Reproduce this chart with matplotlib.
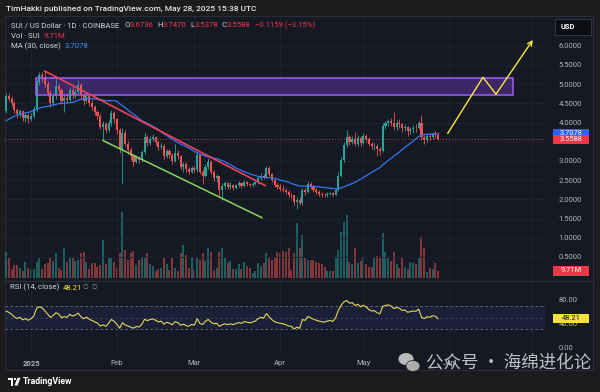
import numpy as np
import pandas as pd
import matplotlib
matplotlib.use("Agg")
import matplotlib.pyplot as plt
from matplotlib.patches import Rectangle, Ellipse, Polygon

plt.rcParams['font.family'] = ['Roboto', 'DejaVu Sans']

# ---------------- data ----------------
# closes before the visible range (24 Nov - 22 Dec 2024), only used for MA/RSI warm-up
warmup_close = [3.42, 3.35, 3.20, 3.45, 3.55, 3.58, 3.62, 3.72, 3.60, 3.48,
                4.10, 4.30, 4.60, 4.52, 4.45, 4.05, 4.12, 4.32, 4.40, 4.35,
                4.42, 4.60, 4.58, 4.48, 4.10, 3.92, 4.08, 4.12, 4.30]

# daily candles 23 Dec 2024 .. 28 May 2025 (x = days since 1 Jan 2025)
days = np.arange(-9, 148)
close = [4.70, 4.62, 4.50, 4.32, 4.22, 4.30, 4.12, 4.20, 4.08, 4.18,
         4.35, 5.05, 5.25, 5.18, 5.00, 4.78, 4.52, 4.68, 4.95, 4.85,
         4.55, 4.65, 4.60, 4.85, 4.72, 4.80, 4.98, 4.72, 4.55, 4.68,
         4.52, 4.40, 4.28, 4.18, 3.88, 3.95, 3.80, 3.98, 4.25, 4.08,
         3.80, 3.30, 3.72, 3.45, 3.28, 3.12, 2.98, 3.10, 3.02, 3.22,
         3.62, 3.48, 3.58, 3.62, 3.50, 3.35, 3.40, 3.12, 3.25, 3.15,
         3.00, 3.20, 3.12, 2.85, 2.92, 2.78, 2.72, 2.82, 2.76, 3.15,
         2.72, 2.62, 2.85, 2.98, 2.72, 2.55, 2.60, 2.25, 2.35, 2.42,
         2.32, 2.38, 2.30, 2.36, 2.42, 2.35, 2.45, 2.40, 2.36, 2.40,
         2.44, 2.55, 2.62, 2.58, 2.82, 2.65, 2.50, 2.38, 2.32, 2.28,
         2.25, 2.20, 2.12, 2.10, 1.92, 1.98, 1.90, 2.25, 2.20, 2.40,
         2.32, 2.25, 2.20, 2.15, 2.12, 2.10, 2.14, 2.16, 2.12, 2.25,
         2.62, 3.02, 3.42, 3.62, 3.50, 3.58, 3.45, 3.60, 3.48, 3.65,
         3.58, 3.45, 3.38, 3.40, 3.30, 3.25, 3.90, 3.98, 4.05, 4.00,
         3.88, 3.98, 3.95, 3.85, 3.88, 3.78, 3.82, 3.86, 3.85, 3.98,
         3.62, 3.55, 3.65, 3.62, 3.70, 3.6747, 3.5588]
high = [4.78, 4.76, 4.68, 4.55, 4.38, 4.36, 4.33, 4.26, 4.25, 4.24,
        4.42, 5.12, 5.32, 5.33, 5.35, 5.08, 4.85, 4.75, 5.18, 5.02,
        4.90, 4.72, 4.78, 4.92, 4.95, 4.88, 5.12, 5.02, 4.78, 4.80,
        4.72, 4.58, 4.46, 4.34, 4.22, 4.05, 4.02, 4.06, 4.32, 4.30,
        4.12, 3.85, 3.85, 3.80, 3.52, 3.35, 3.18, 3.16, 3.14, 3.28,
        3.75, 3.68, 3.64, 3.70, 3.66, 3.55, 3.46, 3.44, 3.32, 3.30,
        3.20, 3.45, 3.28, 3.15, 2.98, 2.96, 2.85, 2.88, 2.86, 3.22,
        3.18, 2.78, 2.92, 3.08, 3.02, 2.76, 2.66, 2.62, 2.42, 2.48,
        2.45, 2.44, 2.41, 2.40, 2.47, 2.45, 2.50, 2.48, 2.43, 2.44,
        2.48, 2.60, 2.68, 2.66, 2.88, 2.86, 2.68, 2.53, 2.42, 2.40,
        2.36, 2.30, 2.24, 2.16, 2.12, 2.05, 2.06, 2.30, 2.30, 2.48,
        2.44, 2.36, 2.30, 2.24, 2.18, 2.16, 2.18, 2.20, 2.20, 2.30,
        2.70, 3.10, 3.50, 3.80, 3.68, 3.66, 3.75, 3.68, 3.64, 3.72,
        3.70, 3.62, 3.50, 3.48, 3.44, 3.36, 3.98, 4.05, 4.10, 4.12,
        4.27, 4.06, 4.08, 4.00, 3.95, 3.92, 3.88, 3.94, 3.95, 4.05,
        4.20, 3.68, 3.72, 3.72, 3.76, 3.78, 3.747]
low = [4.25, 4.55, 4.42, 4.25, 4.12, 4.15, 4.05, 4.02, 4.00, 4.04,
       4.12, 4.30, 4.98, 5.05, 4.92, 4.70, 4.40, 4.45, 4.62, 4.75,
       4.48, 4.27, 4.52, 4.55, 4.62, 4.65, 4.75, 4.62, 4.45, 4.50,
       4.42, 4.32, 4.20, 4.10, 3.82, 3.55, 3.72, 3.75, 3.92, 4.00,
       3.70, 3.20, 2.40, 3.38, 3.18, 3.02, 2.88, 2.94, 2.95, 2.98,
       3.18, 3.40, 3.42, 3.52, 3.42, 3.28, 3.30, 3.05, 3.08, 3.08,
       2.93, 2.96, 3.05, 2.78, 2.72, 2.70, 2.66, 2.68, 2.70, 2.72,
       2.65, 2.40, 2.58, 2.80, 2.65, 2.48, 2.45, 2.05, 1.97, 2.28,
       2.26, 2.28, 2.25, 2.27, 2.33, 2.30, 2.32, 2.35, 2.32, 2.33,
       2.37, 2.40, 2.50, 2.52, 2.55, 2.60, 2.44, 2.33, 2.26, 2.22,
       2.18, 2.14, 2.06, 2.04, 1.86, 1.75, 1.84, 1.86, 2.10, 2.16,
       2.26, 2.18, 2.14, 2.08, 2.06, 2.05, 2.06, 2.10, 2.08, 2.10,
       2.22, 2.58, 2.98, 3.35, 3.42, 3.45, 3.38, 3.40, 3.40, 3.45,
       3.50, 3.38, 3.30, 3.28, 3.12, 3.15, 3.22, 3.84, 3.92, 3.90,
       3.80, 3.80, 3.85, 3.76, 3.78, 3.65, 3.70, 3.74, 3.76, 3.82,
       3.55, 3.45, 3.50, 3.55, 3.58, 3.60, 3.5378]
volume_m = [36, 27, 13, 18, 18, 14, 10, 22, 14, 13,
            13, 22, 28, 13, 20, 21, 28, 24, 34, 14,
            11, 41, 22, 28, 28, 24, 25, 34, 36, 22,
            13, 21, 21, 15, 18, 53, 20, 28, 28, 22,
            14, 34, 91, 39, 25, 34, 38, 18, 25, 27,
            28, 34, 20, 17, 10, 13, 14, 28, 20, 11,
            28, 14, 10, 34, 46, 32, 14, 29, 11, 28,
            25, 35, 24, 41, 36, 11, 14, 36, 41, 27,
            21, 24, 13, 13, 20, 13, 22, 17, 14, 7,
            10, 21, 17, 21, 35, 27, 25, 27, 36, 34,
            38, 36, 41, 11, 34, 76, 42, 59, 28, 25,
            25, 25, 22, 21, 20, 15, 10, 10, 10, 29,
            39, 64, 78, 87, 22, 20, 42, 21, 24, 29,
            20, 15, 15, 27, 31, 27, 62, 36, 27, 24,
            36, 20, 14, 27, 15, 13, 22, 21, 20, 27,
            57, 41, 8, 14, 13, 21, 9.71]

month_ticks = [0, 31, 59, 90, 120, 151, 181]
month_labels = ['2025', 'Feb', 'Mar', 'Apr', 'May', 'Jun', '']
price_ticks = np.arange(0.5, 6.01, 0.5)
hidden_price_ticks = [3.5]          # covered by the price tags
rsi_ticks = [0, 40, 80]

# drawings on the chart (day, price)
zone_days, zone_prices = [1.8, 174.0], [4.72, 5.16]
red_days, red_prices = [5.0, 84.5], [5.34, 2.36]
green_days, green_prices = [26.0, 83.4], [3.53, 1.52]
path_days, path_prices = [150.5, 163.2, 167.9, 181.2], [3.72, 5.18, 4.74, 6.15]

legend_ohlc = [('O', '3.6736'), ('H', '3.7470'), ('L', '3.5378'), ('C', '3.5588')]
legend_change = '−0.1159 (−3.15%)'
last_price, last_ma, last_vol, last_rsi = '3.5588', '3.7078', '9.71M', '48.21'

# ---------------- indicators ----------------
allc = pd.Series(warmup_close + close)
ma30 = allc.rolling(30).mean().values[-len(close):]
delta = allc.diff()
gain = delta.clip(lower=0).ewm(alpha=1/14, adjust=False).mean()
loss = (-delta.clip(upper=0)).ewm(alpha=1/14, adjust=False).mean()
rsi = (100 - 100 / (1 + gain / loss)).values[-len(close):]

close = np.array(close)
opens = np.concatenate([[warmup_close[-1]], close[:-1]])
up = close >= opens

# ---------------- style ----------------
W, H = 600, 392
PANEL = '#151924'
GRID = '#1f2331'
TXT = '#b2b5be'
WHT = '#d1d4dc'
RED = '#f23645'
UP, DN = '#26a69a', '#ef5350'
MA_C = '#3179f0'
RSI_C = '#e6d85a'

fig = plt.figure(figsize=(W / 100, H / 100), dpi=100)
fig.patch.set_facecolor('#1c1c1e')
renderer = fig.canvas.get_renderer()


def box(x0, y0, x1, y1):
    return [x0 / W, 1 - y1 / H, (x1 - x0) / W, (y1 - y0) / H]


def txt(x, y, s, **kw):
    kw.setdefault('color', WHT)
    kw.setdefault('fontsize', 5.6)
    return fig.text(x / W, 1 - y / H, s, va='center', **kw)


def chain(x, y, parts, **kw):
    # lay texts out one after another, like the pane legends
    for s, c, gap in parts:
        t = txt(x, y, s, color=c, **kw)
        x += t.get_window_extent(renderer).width + gap


fig.add_artist(Rectangle((5 / W, 1 - 370 / H), 588 / W, 354 / H, transform=fig.transFigure,
                         fc=PANEL, ec='#2a2e39', lw=0.8, zorder=-1))

xlim = (-9.4, 185.6)

# ---- volume (behind) ----
axv = fig.add_axes(box(5, 17, 545, 278))
axv.bar(days, volume_m, width=0.72, color=np.where(up, UP, DN), alpha=0.5, lw=0)
axv.set_xlim(xlim)
axv.set_ylim(0, 361)
axv.axis('off')

# ---- price pane ----
ax = fig.add_axes(box(5, 17, 545, 278))
ax.patch.set_visible(False)
ax.set_xlim(xlim)
ax.set_ylim(-0.05, 6.75)
for s in ax.spines.values():
    s.set_visible(False)
ax.set_xticks(month_ticks)
ax.set_yticks(price_ticks)
ax.set_yticklabels(['' if p in hidden_price_ticks else f'{p:.4f}' for p in price_ticks])
ax.yaxis.tick_right()
ax.tick_params(axis='y', length=0, pad=10, labelsize=5.5, labelcolor=TXT)
ax.tick_params(axis='x', length=0, labelbottom=False)
ax.grid(color=GRID, lw=0.6, zorder=0)

ax.add_patch(Rectangle((zone_days[0], zone_prices[0]), zone_days[1] - zone_days[0],
                       zone_prices[1] - zone_prices[0], fc='#7b3fd0', alpha=0.38, ec='none', zorder=2))
ax.add_patch(Rectangle((zone_days[0], zone_prices[0]), zone_days[1] - zone_days[0],
                       zone_prices[1] - zone_prices[0], fc='none', ec='#a15ef0', lw=1.1, zorder=6))

ax.axhline(close[-1], color=DN, ls=(0, (1, 2)), lw=0.7, alpha=0.8, zorder=2)

col = np.where(up, UP, DN)
ax.vlines(days, low, high, colors=col, lw=0.6, zorder=3)
ax.bar(days, np.maximum(np.abs(close - opens), 0.01), bottom=np.minimum(opens, close),
       width=0.74, color=col, lw=0, zorder=4)
ax.plot(days, ma30, color=MA_C, lw=0.9, zorder=5)

ax.plot(red_days, red_prices, color='#f0405a', lw=1.2, zorder=6)
ax.plot(green_days, green_prices, color='#86d65a', lw=1.1, zorder=6)
ax.plot(path_days[:3], path_prices[:3], color='#f5eb3b', lw=1.0, zorder=7)
ax.annotate('', xy=(path_days[3], path_prices[3]), xytext=(path_days[2], path_prices[2]),
            arrowprops=dict(arrowstyle='->', color='#f5eb3b', lw=1.0, shrinkA=0, shrinkB=0,
                            mutation_scale=8), zorder=7)

# ---- RSI pane ----
ar = fig.add_axes(box(5, 283, 545, 352))
ar.patch.set_visible(False)
ar.set_xlim(xlim)
ar.set_ylim(-8.5, 108.9)
for s in ar.spines.values():
    s.set_visible(False)
ar.axhspan(30, 70, color='#2e4a9e', alpha=0.16, lw=0, zorder=1)
for lvl, a in [(70, 0.9), (50, 0.45), (30, 0.9)]:
    ar.axhline(lvl, color='#787b86', ls=(0, (3, 3)), lw=0.6, alpha=a, zorder=2)
ar.plot(days, rsi, color=RSI_C, lw=0.8, zorder=3)
ar.set_yticks(rsi_ticks)
ar.set_yticklabels([f'{v:.2f}' for v in rsi_ticks])
ar.yaxis.tick_right()
ar.tick_params(axis='y', length=0, pad=10, labelsize=5.5, labelcolor=TXT)
ar.set_xticks(month_ticks)
ar.set_xticklabels(month_labels)
ar.tick_params(axis='x', length=0, pad=6, labelsize=5.5, labelcolor=TXT)
ar.get_xticklabels()[0].set_fontweight('bold')
ar.grid(axis='x', color=GRID, lw=0.6, zorder=0)
ar.grid(axis='y', visible=False)

fig.add_artist(plt.Line2D([5 / W, 593 / W], [1 - 281 / H] * 2, color='#2a2e39', lw=1.0))


# ---- price-scale tags ----
def tag(axis, val, s, fc, tc):
    ypix = H - axis.transData.transform((0, val))[1]
    fig.add_artist(Rectangle((553 / W, 1 - (ypix + 4.6) / H), 36 / W, 9.2 / H,
                             transform=fig.transFigure, fc=fc, ec='none', zorder=5))
    t = txt(571, ypix, s, color=tc, ha='center', fontsize=5.4)
    t.set_zorder(6)


tag(ax, ma30[-1], last_ma, '#2962ff', 'white')
tag(ax, close[-1], last_price, RED, 'white')
tag(axv, volume_m[-1], last_vol, RED, 'white')
tag(ar, rsi[-1], last_rsi, '#f5e13b', '#131722')

fig.add_artist(Rectangle((555 / W, 1 - 34.5 / H), 36 / W, 15.5 / H, transform=fig.transFigure,
                         fc='#0c0e14', ec='#3a3e4a', lw=0.6, zorder=5))
txt(561, 26.8, 'USD', color='white', fontsize=5.4, fontweight='bold').set_zorder(6)

# ---- header / legends ----
txt(6, 9, 'TimHakki published on TradingView.com, May 28, 2025 15:38 UTC',
    color='#e6e6e6', fontsize=6.0, fontweight='medium')
parts = [('SUI / US Dollar · 1D · COINBASE', WHT, 5)]
for k, v in legend_ohlc:
    parts += [(k, WHT, 0.3), (v, RED, 3.2)]
parts[-1] = (parts[-1][0], RED, 5)
parts.append((legend_change, RED, 0))
chain(11, 25, parts)
chain(11, 35.5, [('Vol · SUI', WHT, 3.5), (last_vol, RED, 0)])
chain(11, 46, [('MA (30, close)', WHT, 3.5), (last_ma, '#3d8ef7', 0)])
chain(10, 287.5, [('RSI (14, close)', WHT, 3.5), (last_rsi, '#f5e13b', 3.5)])
txt(83, 287.5, '∅  ∅', color='#9598a1', fontsize=4.8)

# ---- TradingView logo ----
fig.add_artist(Rectangle((8 / W, 1 - 380 / H), 5 / W, 2.2 / H, transform=fig.transFigure, fc='white'))
fig.add_artist(Rectangle((10.5 / W, 1 - 385.5 / H), 2.4 / W, 7.5 / H, transform=fig.transFigure, fc='white'))
fig.add_artist(Ellipse((15 / W, 1 - 379 / H), 2.2 / W, 2.2 / H, transform=fig.transFigure, fc='white'))
fig.add_artist(Polygon([[17.5 / W, 1 - 377.8 / H], [20.5 / W, 1 - 377.8 / H], [17.5 / W, 1 - 385.5 / H],
                        [14.5 / W, 1 - 385.5 / H]], transform=fig.transFigure, fc='white'))
txt(23, 382, 'TradingView', color='white', fontsize=6.3, fontweight='bold')

# ---- watermark ----
fig.add_artist(Ellipse((406 / W, 1 - 359 / H), 15 / W, 12 / H, transform=fig.transFigure,
                       fc='#d9d9d9', alpha=0.85, zorder=8))
fig.add_artist(Ellipse((413 / W, 1 - 366 / H), 14 / W, 11 / H, transform=fig.transFigure,
                       fc='#bdbdbd', ec='#1c1c1e', lw=0.6, alpha=0.9, zorder=8))
txt(426, 362.5, '公众号 · 海绵进化论', color='#dedede', alpha=0.85, fontsize=12.6,
    family=['Noto Sans CJK SC', 'DejaVu Sans']).set_zorder(9)

fig.savefig('out.png', dpi=100, facecolor=fig.get_facecolor())
